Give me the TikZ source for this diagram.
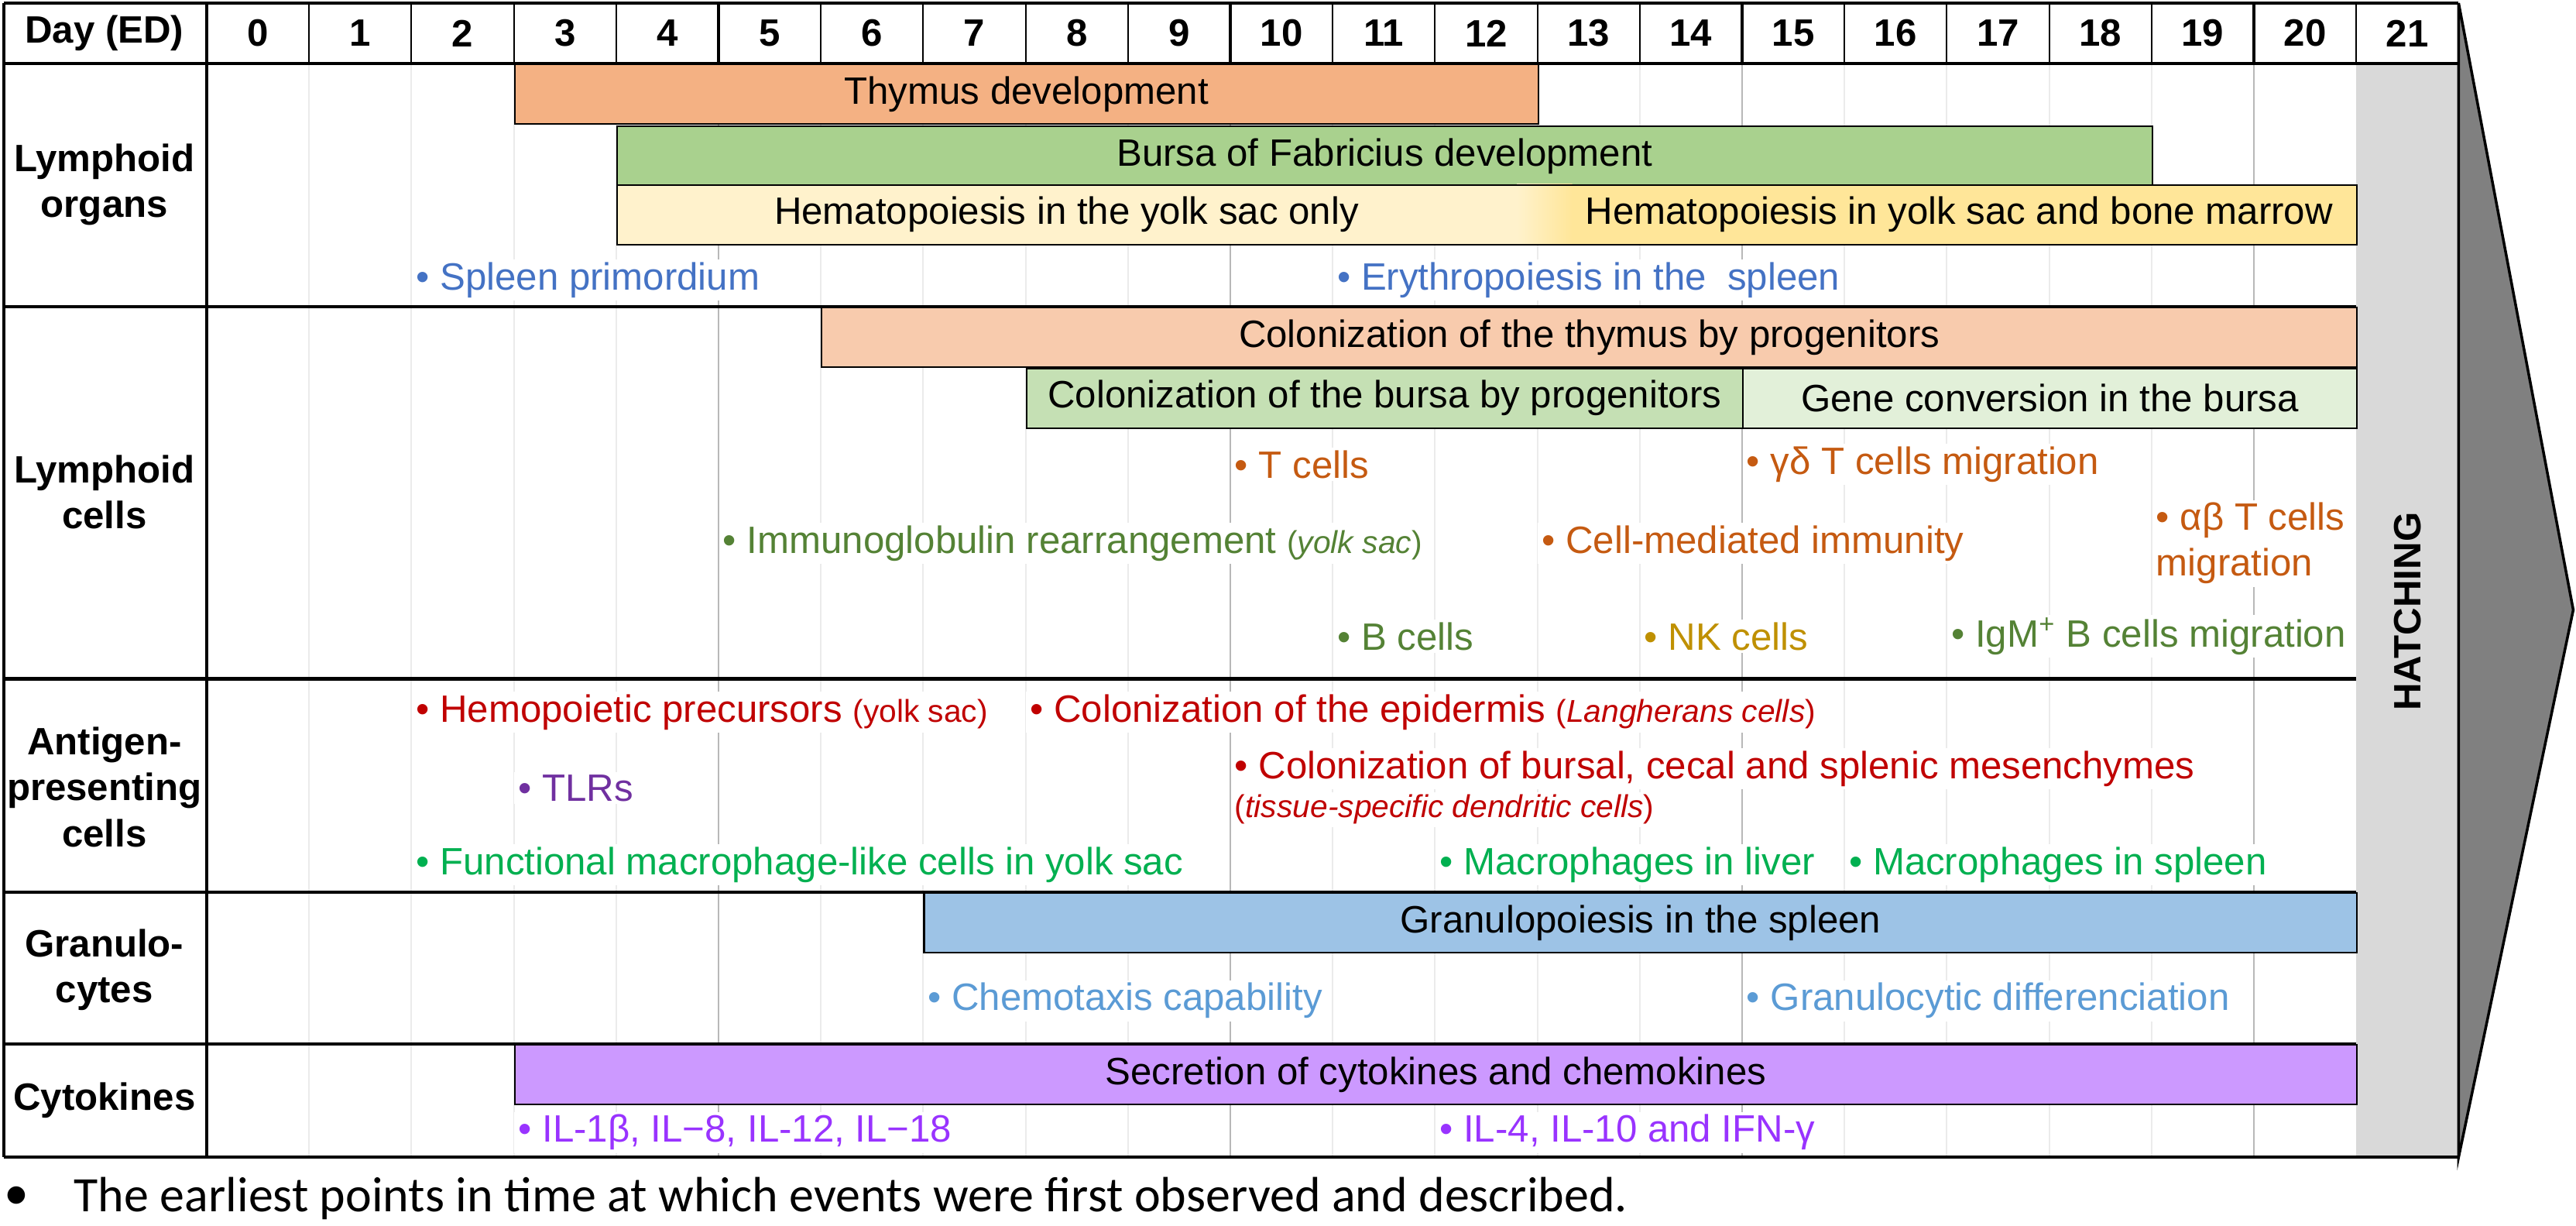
\documentclass[tikz,border=0pt]{standalone}
\usepackage{fontspec}
\setmainfont{Liberation Sans}
\newfontfamily\notefont{Carlito}
\usetikzlibrary{positioning}

% bar fills
\definecolor{thymusc}{HTML}{F4B183}
\definecolor{bursac}{HTML}{A9D18E}
\definecolor{hemoA}{HTML}{FFF2CC}
\definecolor{hemoB}{HTML}{FFE699}
\definecolor{colthy}{HTML}{F8CBAD}
\definecolor{colbur}{HTML}{C5E0B4}
\definecolor{geneconv}{HTML}{E2F0D9}
\definecolor{granuc}{HTML}{9DC3E6}
\definecolor{cytoc}{HTML}{CC99FF}
\definecolor{hatchc}{HTML}{D9D9D9}
\definecolor{arrowc}{HTML}{808080}
% event text colours
\definecolor{organtxt}{HTML}{4472C4}
\definecolor{tcelltxt}{HTML}{C55A11}
\definecolor{bcelltxt}{HTML}{548235}
\definecolor{nktxt}{HTML}{BF9000}
\definecolor{apctxt}{HTML}{C00000}
\definecolor{tlrtxt}{HTML}{7030A0}
\definecolor{macrotxt}{HTML}{00B050}
\definecolor{granutxt}{HTML}{5B9BD5}
\definecolor{cytotxt}{HTML}{9933FF}

\newcommand{\colw}{1.322cm}
\newcommand{\evtsize}{\fontsize{14}{16.8}\selectfont}
\newcommand{\subsize}{\fontsize{11.6}{14}\selectfont}

\begin{document}
\begin{tikzpicture}[
    x=\colw, y=-0.01cm,
    every node/.style={font=\evtsize},
    bar/.style={draw=black, line width=0.6pt, anchor=north west, inner sep=0pt,
                minimum height=0.77cm},
    evt/.style={anchor=west, inner xsep=1.5pt, inner ysep=1pt, fill=white},
    sect/.style={font=\evtsize\bfseries, align=center},
    day/.style={font=\evtsize\bfseries},
    frame/.style={line width=1.2pt},
    minor/.style={line width=0.6pt, black!8},
    major/.style={line width=0.6pt, black!28}
]
\useasboundingbox (-2.0197,0) rectangle (23.147,1583);

% Hatching column
\fill[hatchc] (21,82) rectangle (22,1495);

% Day grid
\foreach \k in {1,...,20}
    \draw[minor] (\k,82) -- (\k,1495);
\foreach \k in {5,10,15,20}
    \draw[major] (\k,82) -- (\k,1495);

% Lymphoid organs bars
\node[bar, fill=thymusc, minimum width={10*\colw}] (thymus) at (3,82) {Thymus development};
\node[bar, fill=bursac, minimum width={15*\colw}] (bursa) at (4,162) {Bursa of Fabricius development};
\fill[hemoA] (4,238) rectangle (12.8,316);
\shade[left color=hemoA, right color=hemoB] (12.8,238) rectangle (13.34,316);
\fill[hemoB] (13.34,238) rectangle (21,316);
\node[bar, minimum width={17*\colw}] (hemo) at (4,238) {};
\node (hemoyolk) at (8.4,277) {Hematopoiesis in the yolk sac only};
\node (hemomarrow) at (17.12,277) {Hematopoiesis in yolk sac and bone marrow};

% Lymphoid cells bars
\node[bar, fill=colthy, minimum width={15*\colw}] (colthymus) at (6,396) {Colonization of the thymus by progenitors};
\node[bar, fill=colbur, minimum width={7*\colw}] (colbursa) at (8,475) {Colonization of the bursa by progenitors};
\node[bar, fill=geneconv, minimum width={6*\colw}] (geneconv) at (15,475) {Gene conversion in the bursa};

% Granulocytes and cytokines bars
\node[bar, fill=granuc, minimum width={14*\colw}] (granulo) at (7,1153) {Granulopoiesis in the spleen};
\node[bar, fill=cytoc, minimum width={18*\colw}] (secretion) at (3,1349) {Secretion of cytokines and chemokines};

% Table frame
\draw[frame] (-1.98,4) -- (22,4);
\draw[frame] (-1.98,82) -- (22,82);
\foreach \y in {396,877,1153,1349}
    \draw[frame] (-1.98,\y) -- (21,\y);
\draw[frame] (-1.98,1495) -- (22,1495);
\draw[frame] (-1.98,4) -- (-1.98,1495);
\draw[frame] (0,4) -- (0,1495);
\foreach \k in {1,...,21}
    \draw[line width=0.6pt] (\k,4) -- (\k,82);
\foreach \k in {5,10,15,20}
    \draw[frame] (\k,4) -- (\k,82);

% Hatching arrow
\draw[fill=arrowc, line width=1pt] (22,4) -- (23.12,788) -- (22,1495) -- cycle;
\node[sect, rotate=90] (hatch) at (21.5,790) {HATCHING};

% Header row
\node[day] (hday) at (-1,43) {Day (ED)};
\foreach \k in {0,...,21}
    \node[day] (d\k) at (\k+0.5,43) {\k};

% Row labels
\node[sect] (organs) at (-1,239) {Lymphoid\\organs};
\node[sect] (cells) at (-1,636) {Lymphoid\\cells};
\node[sect] (apc) at (-1,1017) {Antigen-\\presenting\\cells};
\node[sect] (granu) at (-1,1253) {Granulo-\\cytes};
\node[sect] (cyto) at (-1,1422) {Cytokines};

% Lymphoid organs events
\node[evt, text=organtxt] (spleen) at (2,362) {• Spleen primordium};
\node[evt, text=organtxt] (erythro) at (11,362) {• Erythropoiesis in the\ \ spleen};

% Lymphoid cells events
\node[evt, text=tcelltxt] (tcells) at (10,600) {• T cells};
\node[evt, text=tcelltxt] (gdtcells) at (15,600) {• γδ T cells migration};
\node[evt, text=bcelltxt] (igrearr) at (5,702) {• Immunoglobulin rearrangement {\subsize(\textit{yolk sac})}};
\node[evt, text=tcelltxt] (cmi) at (13,702) {• Cell-mediated immunity};
\node[evt, text=tcelltxt, align=left] (abtcells) at (19,702) {• αβ T cells\\migration};
\node[evt, text=bcelltxt] (bcells) at (11,822) {• B cells};
\node[evt, text=nktxt] (nkcells) at (14,822) {• NK cells};
\node[evt, text=bcelltxt] (igm) at (17,822) {• IgM\textsuperscript{+} B cells migration};

% Antigen-presenting cells events
\node[evt, text=apctxt] (hemoprec) at (2,920) {• Hemopoietic precursors {\subsize(yolk sac)}};
\node[evt, text=apctxt] (epidermis) at (8,920) {• Colonization of the epidermis {\subsize(\textit{Langherans cells})}};
\node[evt, text=tlrtxt] (tlrs) at (3,1018) {• TLRs};
\node[evt, text=apctxt] (mesen) at (10,993) {• Colonization of bursal, cecal and splenic mesenchymes};
\node[evt, text=apctxt] (mesendc) at (10,1046) {\subsize(\textit{tissue-specific dendritic cells})};
\node[evt, text=macrotxt] (yolkmac) at (2,1117) {• Functional macrophage-like cells in yolk sac};
\node[evt, text=macrotxt] (livermac) at (12,1117) {• Macrophages in liver};
\node[evt, text=macrotxt] (spleenmac) at (16,1117) {• Macrophages in spleen};

% Granulocytes events
\node[evt, text=granutxt] (chemotaxis) at (7,1293) {• Chemotaxis capability};
\node[evt, text=granutxt] (granudiff) at (15,1293) {• Granulocytic differenciation};

% Cytokines events
\node[evt, text=cytotxt] (ilearly) at (3,1463) {• IL-1β, IL−8, IL-12, IL−18};
\node[evt, text=cytotxt] (illate) at (12,1463) {• IL-4, IL-10 and IFN-γ};

% Footnote
\node[font=\notefont\fontsize{18.2}{22}\selectfont] (notebullet) at (-1.86,1548) {•};
\node[font=\notefont\fontsize{18.2}{22}\selectfont, anchor=west, inner xsep=0pt] (note) at (-1.30,1548)
    {The earliest points in time at which events were first observed and described.};

\end{tikzpicture}
\end{document}
